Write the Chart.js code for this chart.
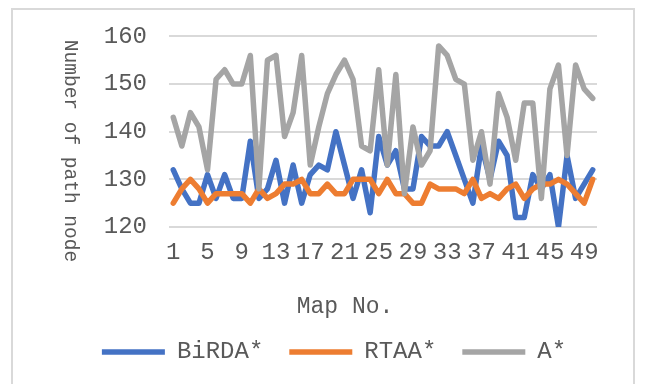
<!DOCTYPE html>
<html>
<head>
<meta charset="utf-8">
<script src="https://cdn.jsdelivr.net/npm/chart.js@4/dist/chart.umd.min.js"></script>
<style>
  html, body { margin: 0; padding: 0; background: #ffffff; }
  #wrap { position: relative; width: 646px; height: 384px; overflow: hidden; background: #ffffff; }
  #frame { position: absolute; left: 11px; top: 8px; width: 624px; height: 420px;
           border: 2px solid #d9d9d9; box-sizing: border-box; }
  #c { position: absolute; left: 0; top: 0; }
</style>
</head>
<body>
<div id="wrap">
  <div id="frame"></div>
  <canvas id="c" width="646" height="384"></canvas>
</div>
<script>
// Map numbers along the x axis
const mapNumbers = ['1','2','3','4','5','6','7','8','9','10',
  '11','12','13','14','15','16','17','18','19','20',
  '21','22','23','24','25','26','27','28','29','30',
  '31','32','33','34','35','36','37','38','39','40',
  '41','42','43','44','45','46','47','48','49','50'];

// Number of path nodes per map for each planner
const birdaNodes = [132,128,125,125,131,126,131,126,126,138,
  126,128,134,125,133,125,131,133,132,140,
  133,126,132,123,139,133,136,128,128,139,
  137,137,140,135,130,125,137,130,138,135,
  122,122,131,128,131,120,135,126,129,132];

const rtaaNodes = [125,128,130,128,125,127,127,127,127,125,
  128,126,127,129,129,130,127,127,129,127,
  127,130,130,130,127,130,127,127,125,125,
  129,128,128,128,127,130,126,127,126,128,
  129,126,128,129,129,130,129,127,125,130];

const astarNodes = [143,137,144,141,132,151,153,150,150,156,
  128,155,156,139,144,156,133,141,148,152,
  155,151,137,136,153,133,152,127,141,133,
  136,158,156,151,150,134,140,129,148,143,
  134,146,146,126,149,154,135,154,149,147];

const seriesNames = ['BiRDA*', 'RTAA*', 'A*'];
const yTicks = [120, 130, 140, 150, 160];
const xTitle = 'Map No.';
const yTitle = 'Number of path node';

const FONT = '"Liberation Mono", "DejaVu Sans Mono", monospace';
const TEXT = '#595959';

// Axis captions: rotated y caption reads top-to-bottom
const axisCaptions = {
  id: 'axisCaptions',
  afterDraw(chart) {
    const ctx = chart.ctx;
    ctx.save();
    ctx.fillStyle = TEXT;
    ctx.textAlign = 'center';
    ctx.textBaseline = 'middle';
    ctx.font = '23px ' + FONT;
    ctx.fillText(xTitle, 345, 307);
    ctx.translate(70, 151);
    ctx.rotate(Math.PI / 2);
    ctx.font = '19.5px ' + FONT;
    ctx.fillText(yTitle, 0, 0);
    ctx.restore();
  }
};

const lineStyle = {
  borderWidth: 5.5,
  pointRadius: 0,
  pointHoverRadius: 0,
  tension: 0,
  fill: false,
  borderJoinStyle: 'round',
  borderCapStyle: 'round'
};

new Chart(document.getElementById('c'), {
  type: 'line',
  data: {
    labels: mapNumbers,
    datasets: [
      Object.assign({ label: seriesNames[0], data: birdaNodes, borderColor: '#4472C4', backgroundColor: '#4472C4', order: 3 }, lineStyle),
      Object.assign({ label: seriesNames[1], data: rtaaNodes, borderColor: '#ED7D31', backgroundColor: '#ED7D31', order: 2 }, lineStyle),
      Object.assign({ label: seriesNames[2], data: astarNodes, borderColor: '#A5A5A5', backgroundColor: '#A5A5A5', order: 1 }, lineStyle)
    ]
  },
  options: {
    responsive: false,
    animation: false,
    devicePixelRatio: 1,
    layout: { padding: { left: 22, right: 0, top: 36, bottom: 10 } },
    plugins: {
      tooltip: { enabled: false },
      legend: {
        position: 'bottom',
        labels: {
          usePointStyle: true,
          pointStyle: 'line',
          pointStyleWidth: 63,
          padding: 26,
          color: TEXT,
          font: { family: FONT, size: 24 },
          sort: (a, b) => a.datasetIndex - b.datasetIndex
        }
      }
    },
    scales: {
      x: {
        offset: true,
        grid: { display: false, drawTicks: false },
        border: { display: false },
        ticks: {
          autoSkip: false,
          maxRotation: 0,
          minRotation: 0,
          padding: 11,
          color: TEXT,
          font: { family: FONT, size: 24 },
          callback: function (value, index) {
            return index % 4 === 0 ? this.getLabelForValue(value) : '';
          }
        },
        afterFit: (scale) => { scale.height = 87; }
      },
      y: {
        min: yTicks[0],
        max: yTicks[yTicks.length - 1],
        grid: { color: '#d9d9d9', lineWidth: 2, drawTicks: false },
        border: { display: false },
        afterBuildTicks: (scale) => { scale.ticks = yTicks.map(v => ({ value: v })); },
        ticks: {
          padding: 22,
          color: TEXT,
          font: { family: FONT, size: 24 }
        },
        afterFit: (scale) => { scale.width = 147; }
      },
      // empty margin on the right of the plot
      yRight: {
        position: 'right',
        grid: { display: false, drawTicks: false },
        border: { display: false },
        ticks: { display: false },
        afterFit: (scale) => { scale.width = 49; }
      }
    }
  },
  plugins: [axisCaptions]
});
</script>
</body>
</html>
